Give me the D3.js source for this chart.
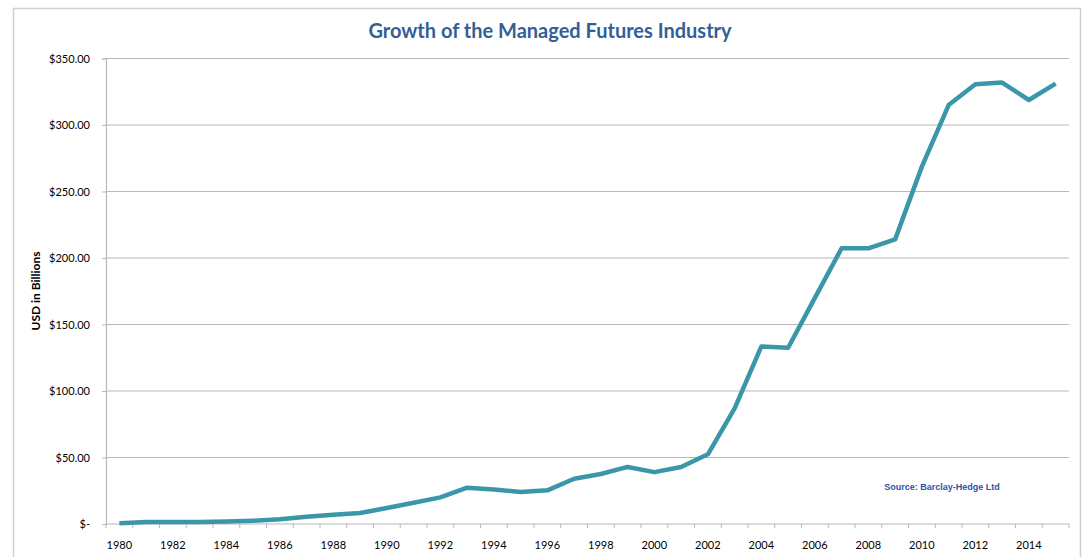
<!DOCTYPE html>
<html>
<head>
<meta charset="utf-8">
<script src="https://cdn.jsdelivr.net/npm/d3@7"></script>
<style>
  body { margin: 0; background: #fff; }
  text { font-family: Lato, "Open Sans", sans-serif; }
</style>
</head>
<body>
<div id="chart"></div>
<script>
const years = d3.range(1980, 2016).map(String);
const aum = [0.5, 1.5, 1.5, 1.5, 1.8, 2.5, 3.5, 5.5, 7, 8.3, 12, 16, 20, 27.3, 26, 24, 25.3,
             34, 37.6, 42.9, 39, 42.9, 52.4, 87, 133.5, 132.5, 170, 207.3, 207.3, 214,
             268.7, 315, 330.6, 331.9, 318.8, 331.1];
const yTicks = [0, 50, 100, 150, 200, 250, 300, 350];

const W = 1084, H = 557;
const margin = {top: 58.5, right: 15, bottom: 33, left: 106},
    width = 1069 - margin.left,
    height = 524 - margin.top;

const root = d3.select("#chart")
    .append("svg")
    .attr("width", W)
    .attr("height", H);

// outer frame
root.append("rect")
    .attr("x", 13.5).attr("y", 8.5)
    .attr("width", 1067).attr("height", 560)
    .attr("fill", "none")
    .attr("stroke", "#cfcfcf")
    .attr("stroke-width", 1.5);

const svg = root.append("g")
    .attr("transform", `translate(${margin.left},${margin.top})`);

const x = d3.scaleBand()
    .domain(years)
    .range([0, width]);

const y = d3.scaleLinear()
    .domain([0, 350])
    .range([height, 0]);

// gridlines
svg.append("g")
    .selectAll("line")
    .data(yTicks.filter(d => d > 0))
    .join("line")
    .attr("x1", 0).attr("x2", width)
    .attr("y1", d => y(d)).attr("y2", d => y(d))
    .attr("stroke", "#b8b8b8")
    .attr("stroke-width", 1.2);

// y axis
const yAxis = svg.append("g")
    .call(d3.axisLeft(y)
        .tickValues(yTicks)
        .tickSize(4)
        .tickPadding(12)
        .tickFormat(d => d === 0 ? "$-" : "$" + d3.format(".2f")(d)));
yAxis.select(".domain").attr("stroke", "#b8b8b8").attr("stroke-width", 1.2);
yAxis.selectAll(".tick line").attr("stroke", "#b8b8b8");
yAxis.selectAll(".tick text")
    .attr("font-size", "11px")
    .attr("fill", "#000")
    .attr("font-family", "Lato, 'Open Sans', sans-serif");

// x axis: ticks at band edges, labels every other year
const xAxisG = svg.append("g")
    .attr("transform", `translate(0,${height})`);
xAxisG.append("line")
    .attr("x1", 0).attr("x2", width)
    .attr("stroke", "#b8b8b8").attr("stroke-width", 1.2);
xAxisG.selectAll(".tk")
    .data(years.concat(["end"]))
    .join("line")
    .attr("class", "tk")
    .attr("x1", (d, i) => i * x.step()).attr("x2", (d, i) => i * x.step())
    .attr("y1", 0).attr("y2", 4)
    .attr("stroke", "#b8b8b8");
xAxisG.selectAll("text")
    .data(years.filter((d, i) => i % 2 === 0))
    .join("text")
    .attr("x", d => x(d) + x.bandwidth() / 2)
    .attr("y", 25)
    .attr("text-anchor", "middle")
    .attr("font-size", "11px")
    .text(d => d);

// line
const line = d3.line()
    .x((d, i) => x(years[i]) + x.bandwidth() / 2)
    .y(d => y(d));

svg.append("path")
    .datum(aum)
    .attr("d", line)
    .attr("fill", "none")
    .attr("stroke", "#3a97a9")
    .attr("stroke-width", 4.5)
    .attr("stroke-linejoin", "round");

// title
root.append("text")
    .attr("x", 550)
    .attr("y", 38)
    .attr("text-anchor", "middle")
    .attr("font-size", "20px")
    .attr("font-weight", "bold")
    .attr("fill", "#335f97")
    .text("Growth of the Managed Futures Industry");

// y axis label
root.append("text")
    .attr("transform", "rotate(-90)")
    .attr("x", -291)
    .attr("y", 40)
    .attr("text-anchor", "middle")
    .attr("font-size", "12px")
    .attr("font-weight", "bold")
    .text("USD in Billions");

// source
root.append("text")
    .attr("x", 942)
    .attr("y", 490)
    .attr("text-anchor", "middle")
    .attr("font-size", "9px")
    .attr("font-weight", "bold")
    .attr("fill", "#2d52a8")
    .style("font-family", "'Liberation Sans', Arial, sans-serif")
    .text("Source: Barclay-Hedge Ltd");
</script>
</body>
</html>
